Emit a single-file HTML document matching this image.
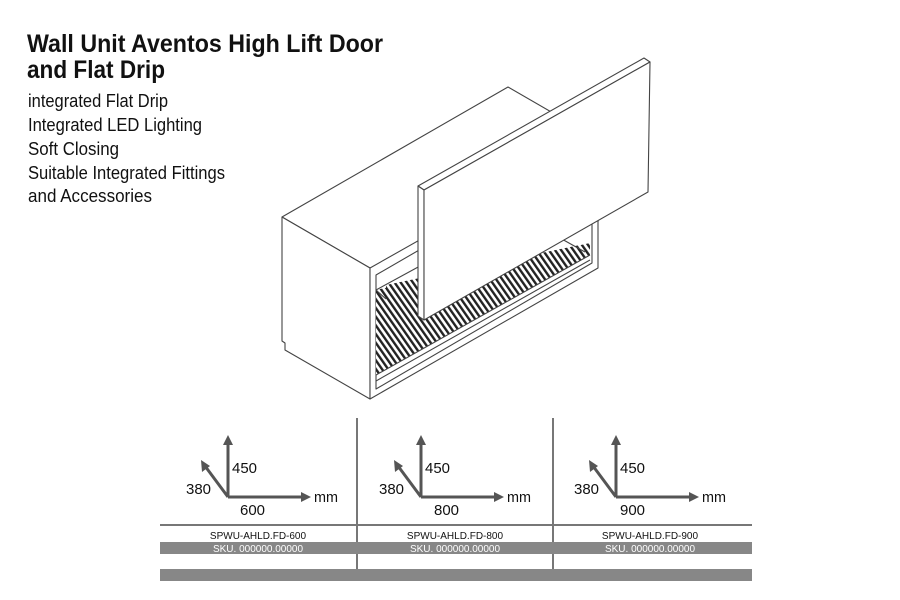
<!DOCTYPE html>
<html><head><meta charset="utf-8"><style>html,body{margin:0;padding:0;background:#fff}svg{display:block}</style></head>
<body>
<svg width="900" height="600" viewBox="0 0 900 600" xmlns="http://www.w3.org/2000/svg" font-family="Liberation Sans, sans-serif">
<defs>
<pattern id="hatch" patternUnits="userSpaceOnUse" width="5" height="5" patternTransform="rotate(-35)">
<rect width="5" height="5" fill="#fff"/><rect width="2.4" height="5" fill="#222"/>
</pattern>
</defs>
<g fill="#111">
<text x="27" y="52" font-size="25" font-weight="bold" textLength="356" lengthAdjust="spacingAndGlyphs">Wall Unit Aventos High Lift Door</text>
<text x="27" y="78" font-size="25" font-weight="bold" textLength="138" lengthAdjust="spacingAndGlyphs">and Flat Drip</text>
<g font-size="18">
<text x="28" y="107" textLength="140" lengthAdjust="spacingAndGlyphs">integrated Flat Drip</text>
<text x="28" y="131" textLength="174" lengthAdjust="spacingAndGlyphs">Integrated LED Lighting</text>
<text x="28" y="155" textLength="91" lengthAdjust="spacingAndGlyphs">Soft Closing</text>
<text x="28" y="179" textLength="197" lengthAdjust="spacingAndGlyphs">Suitable Integrated Fittings</text>
<text x="28" y="202" textLength="124" lengthAdjust="spacingAndGlyphs">and Accessories</text>
</g>
</g>
<g stroke="#444" stroke-width="1.1" fill="#fff" stroke-linejoin="round">
<polygon points="282,217 508,87 598,139 598,222 370,268"/>
<polygon points="282,217 370,268 370,399 285,350 285,343 282,341"/>
<polygon points="370,268 598,139 598,268 370,399"/>
<polygon points="376,275 592,150 592,263 376,389" fill="#fff"/>
<polygon points="376,290 590,243 590,255 420,350 376,375" fill="url(#hatch)" stroke="none"/>
<polygon points="386,285 580,245 580,255 386,300" fill="url(#hatch)" stroke="none"/>
<line x1="376" y1="375" x2="590" y2="255"/>
<line x1="376" y1="381" x2="590" y2="260"/>
<line x1="376" y1="290" x2="420" y2="266"/>
<line x1="376" y1="290" x2="386" y2="299"/>
<line x1="560" y1="238" x2="585" y2="252"/>
<polygon points="418,186 644,58 650,62 424,190"/>
<polygon points="418,186 424,190 424,320 418,316"/>
<polygon points="424,190 650,62 648,192 424,320"/>
</g>
<g stroke="#777" stroke-width="2">
<line x1="357" y1="418" x2="357" y2="570"/>
<line x1="553" y1="418" x2="553" y2="570"/>
<line x1="160" y1="525" x2="752" y2="525"/>
</g>
<rect x="160" y="542" width="592" height="12" fill="#878787"/>
<rect x="160" y="569" width="592" height="12" fill="#878787"/>
<g font-size="10" text-anchor="middle">
<text x="258" y="539" fill="#111">SPWU-AHLD.FD-600</text>
<text x="455" y="539" fill="#111">SPWU-AHLD.FD-800</text>
<text x="650" y="539" fill="#111">SPWU-AHLD.FD-900</text>
<text x="258" y="552" fill="#fff">SKU. 000000.00000</text>
<text x="455" y="552" fill="#fff">SKU. 000000.00000</text>
<text x="650" y="552" fill="#fff">SKU. 000000.00000</text>
</g>
<g id="ax">
<g stroke="#555" stroke-width="3" fill="none">
<line x1="228" y1="497" x2="228" y2="442"/>
<line x1="228" y1="497" x2="304" y2="497"/>
<line x1="228" y1="497" x2="205" y2="466"/>
</g>
<g fill="#555">
<polygon points="228,435 223,445 233,445"/>
<polygon points="311,497 301,492 301,502"/>
<polygon points="201,460 202,472 210,466"/>
</g>
<g font-size="15" fill="#111">
<text x="232" y="473" textLength="25" lengthAdjust="spacingAndGlyphs">450</text>
<text x="186" y="494" textLength="25" lengthAdjust="spacingAndGlyphs">380</text>
<text x="314" y="502" textLength="24" lengthAdjust="spacingAndGlyphs">mm</text>
</g>
</g>
<use href="#ax" x="193"/>
<use href="#ax" x="388"/>
<g font-size="15" fill="#111">
<text x="240" y="515" textLength="25" lengthAdjust="spacingAndGlyphs">600</text>
<text x="434" y="515" textLength="25" lengthAdjust="spacingAndGlyphs">800</text>
<text x="620" y="515" textLength="25" lengthAdjust="spacingAndGlyphs">900</text>
</g>
</svg>
</body></html>
